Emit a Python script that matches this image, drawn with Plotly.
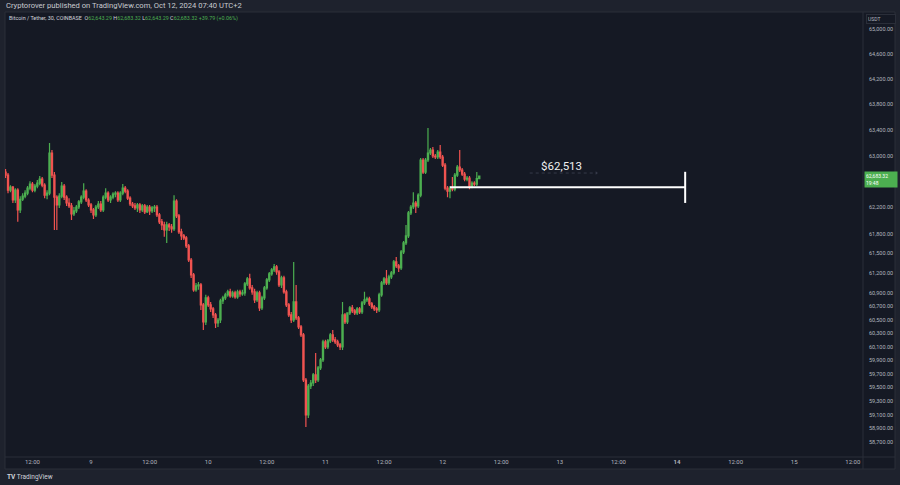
import math
import pandas as pd
import plotly.graph_objects as go

# ---------------- data (BTC/USDT 30-min candles, Coinbase) ----------------
start_time = "2024-10-08 06:30"

opens = [
    62746, 62700, 62467, 62513, 62315, 62467, 62163, 62327, 62374, 62420,
    62498, 62560, 62467, 62529, 62575, 62638, 62544, 62389, 62420, 63042,
    62700, 62358, 62239, 62374, 62529, 62358, 62269, 62224, 62102, 62147,
    62208, 62285, 62358, 62451, 62315, 62239, 62163, 62086, 62208, 62254,
    62163, 62358, 62420, 62315, 62358, 62405, 62420, 62315, 62420, 62498,
    62451, 62343, 62254, 62224, 62193, 62239, 62163, 62224, 62132, 62208,
    62147, 62193, 62208, 62086, 61980, 61934, 61857, 61934, 61903, 61873,
    62300, 62071, 61827, 61766, 61735, 61613, 61400, 61175, 60949, 61009,
    61024, 60723, 60468, 60829, 60723, 60663, 60573, 60454, 60498, 60783,
    60829, 60874, 60919, 60859, 60904, 60844, 60919, 60889, 60904, 61039,
    61114, 60979, 60919, 60798, 60904, 60678, 60829, 60979, 61099, 61190,
    61250, 61295, 61220, 61024, 61129, 60919, 60723, 60573, 60498, 60768,
    60528, 60394, 60276, 59609, 59097, 59521, 59565, 59683, 59609, 59787,
    59905, 60172, 60098, 60187, 60276, 60202, 60172, 60128, 60098, 60573,
    60468, 60603, 60678, 60633, 60603, 60663, 60618, 60753, 60798, 60814,
    60738, 60693, 60663, 60648, 60874, 61054, 61114, 61054, 61144, 61205,
    61370, 61310, 61280, 61522, 61659, 61766, 62117, 62208, 62269, 62224,
    62389, 62933, 62746, 62933, 63042, 63088, 62995, 62980, 63057, 62980,
    62855, 62498, 62451, 62498, 62482, 62700, 62824, 62778, 62715, 62638,
    62653, 62529, 62575, 62560, 62643.29,
]
highs = [
    62793, 62731, 62544, 62529, 62498, 62498, 62374, 62420, 62467, 62529,
    62606, 62591, 62560, 62623, 62684, 62669, 62575, 62467, 63197, 63088,
    62746, 62389, 62420, 62591, 62560, 62389, 62343, 62269, 62208, 62239,
    62315, 62389, 62575, 62482, 62343, 62269, 62193, 62239, 62300, 62300,
    62389, 62498, 62451, 62389, 62436, 62451, 62451, 62451, 62560, 62529,
    62482, 62374, 62285, 62269, 62269, 62269, 62254, 62254, 62239, 62239,
    62224, 62239, 62239, 62117, 62025, 61980, 61980, 61964, 61949, 62389,
    62327, 62102, 61873, 61796, 61766, 61644, 61430, 61205, 61054, 61069,
    61054, 60753, 60874, 60859, 60768, 60693, 60603, 60528, 60814, 60859,
    60904, 60949, 60964, 60934, 60934, 60949, 60949, 60949, 61069, 61144,
    61190, 61024, 60964, 60934, 60934, 60859, 61009, 61129, 61220, 61280,
    61340, 61325, 61250, 61160, 61160, 60949, 60753, 60618, 61370, 61024,
    60558, 60424, 60305, 59639, 59550, 59609, 59713, 60009, 59816, 59935,
    60202, 60202, 60216, 60305, 60350, 60246, 60202, 60157, 60768, 60603,
    60603, 60708, 60723, 60663, 60693, 60693, 60783, 60919, 60844, 60844,
    60768, 60723, 60693, 60904, 61084, 61144, 61250, 61175, 61235, 61400,
    61446, 61340, 61552, 61690, 61934, 62147, 62239, 62436, 62300, 62420,
    62964, 62964, 62964, 63432, 63120, 63135, 63026, 63088, 63166, 63011,
    62886, 62529, 62529, 62669, 62731, 62855, 63088, 62809, 62746, 62684,
    62684, 62606, 62606, 62746, 62683.32,
]
lows = [
    62653, 62420, 62436, 62269, 62269, 61980, 62117, 62300, 62343, 62389,
    62467, 62436, 62436, 62498, 62544, 62513, 62343, 62327, 62389, 62653,
    61857, 61857, 62193, 62343, 62315, 62224, 62193, 62010, 62071, 62117,
    62178, 62254, 62327, 62285, 62208, 62117, 62025, 62056, 62178, 62132,
    62132, 62327, 62285, 62269, 62327, 62358, 62285, 62285, 62389, 62420,
    62315, 62224, 62193, 62163, 62132, 62117, 62132, 62102, 62117, 62086,
    62117, 62132, 62056, 61949, 61857, 61751, 61659, 61842, 61812, 61842,
    62041, 61796, 61705, 61705, 61583, 61370, 61129, 60919, 60919, 60949,
    60648, 60350, 60424, 60693, 60618, 60528, 60379, 60394, 60454, 60738,
    60798, 60844, 60829, 60829, 60814, 60814, 60844, 60859, 60859, 61009,
    60949, 60874, 60753, 60768, 60633, 60648, 60798, 60949, 61069, 61160,
    61220, 61175, 60994, 60979, 60889, 60693, 60543, 60454, 60468, 60498,
    60365, 60246, 59580, 58922, 59053, 59477, 59521, 59565, 59580, 59757,
    59876, 60068, 60068, 60157, 60172, 60142, 60098, 60053, 60053, 60439,
    60439, 60573, 60603, 60573, 60573, 60588, 60588, 60723, 60768, 60708,
    60663, 60633, 60603, 60618, 60844, 61024, 61024, 61024, 61114, 61175,
    61280, 61220, 61250, 61491, 61629, 61735, 62086, 62178, 62117, 62193,
    62358, 62715, 62715, 62902, 63011, 62964, 62949, 62949, 62949, 62824,
    62467, 62358, 62343, 62451, 62451, 62669, 62746, 62684, 62606, 62606,
    62482, 62498, 62529, 62529, 62643.29,
]
closes = [
    62700, 62467, 62513, 62315, 62467, 62163, 62327, 62374, 62420, 62498,
    62560, 62467, 62529, 62575, 62638, 62544, 62389, 62420, 63042, 62700,
    62358, 62239, 62374, 62529, 62358, 62269, 62224, 62102, 62147, 62208,
    62285, 62358, 62451, 62315, 62239, 62163, 62086, 62208, 62254, 62163,
    62358, 62420, 62315, 62358, 62405, 62420, 62315, 62420, 62498, 62451,
    62343, 62254, 62224, 62193, 62239, 62163, 62224, 62132, 62208, 62147,
    62193, 62208, 62086, 61980, 61934, 61857, 61934, 61903, 61873, 62300,
    62071, 61827, 61766, 61735, 61613, 61400, 61175, 60949, 61009, 61024,
    60723, 60468, 60829, 60723, 60663, 60573, 60454, 60498, 60783, 60829,
    60874, 60919, 60859, 60904, 60844, 60919, 60889, 60904, 61039, 61114,
    60979, 60919, 60798, 60904, 60678, 60829, 60979, 61099, 61190, 61250,
    61295, 61220, 61024, 61129, 60919, 60723, 60573, 60498, 60768, 60528,
    60394, 60276, 59609, 59097, 59521, 59565, 59683, 59609, 59787, 59905,
    60172, 60098, 60187, 60276, 60202, 60172, 60128, 60098, 60573, 60468,
    60603, 60678, 60633, 60603, 60663, 60618, 60753, 60798, 60814, 60738,
    60693, 60663, 60648, 60874, 61054, 61114, 61054, 61144, 61205, 61370,
    61310, 61280, 61522, 61659, 61766, 62117, 62208, 62269, 62224, 62389,
    62933, 62746, 62933, 63042, 63088, 62995, 62980, 63057, 62980, 62855,
    62498, 62451, 62498, 62482, 62700, 62824, 62778, 62715, 62638, 62653,
    62529, 62575, 62560, 62643.29, 62683.32,
]
assert len(opens) == len(highs) == len(lows) == len(closes)

y_tick_vals = [65000, 64600, 64200, 63800, 63400, 63000, 62200, 61800, 61500,
               61200, 60900, 60700, 60500, 60300, 60100, 59900, 59700, 59500,
               59300, 59100, 58900, 58700]
y_tick_text = [f"{v:,.2f}" for v in y_tick_vals]

x_tick_vals = ["2024-10-08 12:00", "2024-10-09 00:00", "2024-10-09 12:00",
               "2024-10-10 00:00", "2024-10-10 12:00", "2024-10-11 00:00",
               "2024-10-11 12:00", "2024-10-12 00:00", "2024-10-12 12:00",
               "2024-10-13 00:00", "2024-10-13 12:00", "2024-10-14 00:00",
               "2024-10-14 12:00", "2024-10-15 00:00", "2024-10-15 12:00"]
x_tick_text = ["12:00", "9", "12:00", "10", "12:00", "11", "12:00", "12",
               "12:00", "13", "12:00", "<b>14</b>", "12:00", "15", "12:00"]

level_price = 62513
level_label = "$62,513"
level_start = "2024-10-12 01:30"
level_end = "2024-10-14 01:40"
bar_low, bar_high = 62270, 62750
label_time, label_price = "2024-10-13 00:20", 62840
arrow_start, arrow_end, arrow_price = "2024-10-12 17:50", "2024-10-13 07:30", 62731

x_range = ["2024-10-08 06:23", "2024-10-15 14:05"]
y_range = [58487.5, 65273]

header1 = "Cryptorover published on TradingView.com, Oct 12, 2024 07:40 UTC+2"
symbol_text = "Bitcoin / Tether, 30, COINBASE"
ohlc_text = [("O", "62,643.29"), ("H", "62,683.32"), ("L", "62,643.29"),
             ("C", "62,683.32")]
change_text = "+39.79 (+0.06%)"
countdown = "19:48"

# ---------------- style ----------------
UP = "#4caf50"
DOWN = "#f05350"
PANE = "#151924"
OUTER = "#1e222d"
BORDER = "#2a2e39"
TXT = "#b2b5be"
FONT = "Roboto"

times = pd.date_range(start_time, periods=len(closes), freq="30min")

fig = go.Figure()
fig.add_trace(go.Candlestick(
    x=times, open=opens, high=highs, low=lows, close=closes,
    increasing=dict(line=dict(color=UP, width=1.2), fillcolor=UP),
    decreasing=dict(line=dict(color=DOWN, width=1.2), fillcolor=DOWN),
    whiskerwidth=0, showlegend=False, hoverinfo="skip",
))

# level line with end bar
fig.add_trace(go.Scatter(x=[level_start, level_end], y=[level_price, level_price],
                         mode="lines", line=dict(color="#ffffff", width=2),
                         showlegend=False, hoverinfo="skip"))
fig.add_trace(go.Scatter(x=[level_end, level_end], y=[bar_low, bar_high],
                         mode="lines", line=dict(color="#ffffff", width=2),
                         showlegend=False, hoverinfo="skip"))
# faint dotted arrow
fig.add_trace(go.Scatter(x=[arrow_start, arrow_end], y=[arrow_price, arrow_price],
                         mode="lines", line=dict(color="#363b4a", width=1, dash="dot"),
                         showlegend=False, hoverinfo="skip"))
fig.add_trace(go.Scatter(x=[arrow_end], y=[arrow_price], mode="markers",
                         marker=dict(symbol="triangle-right", size=3, color="#363b4a"),
                         showlegend=False, hoverinfo="skip"))

annotations = [
    dict(x=label_time, y=math.log10(label_price), xref="x", yref="y",
         text=level_label, showarrow=False, font=dict(family=FONT, size=11.5, color="#f0f0f0"),
         xanchor="center", yanchor="middle"),
    # header
    dict(x=-0.0012, y=1.0135, xref="paper", yref="paper", text=header1, showarrow=False,
         font=dict(family=FONT, size=7.6, color="#c8cad0"), xanchor="left", yanchor="middle"),
    dict(x=0.0023, y=0.9865, xref="paper", yref="paper",
         text=symbol_text + "  " + " ".join(
             f"{k}<span style='color:{UP}'>{v}</span>" for k, v in ohlc_text)
         + f" <span style='color:{UP}'>{change_text}</span>",
         showarrow=False, font=dict(family=FONT, size=5.4, color="#d1d4dc"),
         xanchor="left", yanchor="middle"),
    # USDT tag
    dict(x=1.0035, y=0.9843, xref="paper", yref="paper", text="USDT", showarrow=False,
         font=dict(family=FONT, size=5, color=TXT), xanchor="left", yanchor="middle",
         bgcolor=PANE, bordercolor=BORDER, borderwidth=1, width=26, align="left"),
    # last price tag
    dict(x=1.0006, y=math.log10(closes[-1]), xref="paper", yref="y",
         text=f"{closes[-1]:,.2f}<br>{countdown}", showarrow=False,
         font=dict(family=FONT, size=5, color="#ffffff"), xanchor="left", yanchor="top",
         yshift=5, bgcolor=UP, width=30, align="left", borderpad=1),
    # footer logo
    dict(x=0.0, y=-0.045, xref="paper", yref="paper",
         text="<b>TV</b> TradingView", showarrow=False,
         font=dict(family=FONT, size=6.5, color="#d1d4dc"), xanchor="left", yanchor="middle"),
]

shapes = [
    dict(type="rect", xref="paper", yref="paper", x0=0, x1=1.0373, y0=-0.02697, y1=1,
         fillcolor=PANE, line=dict(color=BORDER, width=1), layer="below"),
    dict(type="line", xref="paper", yref="paper", x0=1, x1=1, y0=-0.02697, y1=1,
         line=dict(color=BORDER, width=1)),
    dict(type="line", xref="paper", yref="paper", x0=0, x1=1.0373, y0=0, y1=0,
         line=dict(color=BORDER, width=1)),
]

fig.update_layout(
    template="none",
    width=900, height=485,
    margin=dict(l=5, r=37, t=12, b=28, pad=0, autoexpand=False),
    paper_bgcolor=OUTER, plot_bgcolor=PANE,
    font=dict(family=FONT, color=TXT),
    showlegend=False,
    annotations=annotations, shapes=shapes,
    xaxis=dict(type="date", range=x_range, tickvals=x_tick_vals, ticktext=x_tick_text,
               tickfont=dict(size=6, color=TXT), showgrid=False, zeroline=False,
               showline=False, ticks="", automargin=False,
               rangeslider=dict(visible=False), fixedrange=True),
    yaxis=dict(type="log", side="right", range=[math.log10(y_range[0]), math.log10(y_range[1])],
               tickvals=y_tick_vals, ticktext=y_tick_text, automargin=False,
               tickfont=dict(size=5.5, color=TXT), showgrid=False, zeroline=False,
               showline=False, ticks="", ticklabelstandoff=5, fixedrange=True),
)

fig.write_html(
    "out.html",
    config={"displayModeBar": False},
    post_script="document.body.style.margin='0';document.body.style.overflow='hidden';",
)
